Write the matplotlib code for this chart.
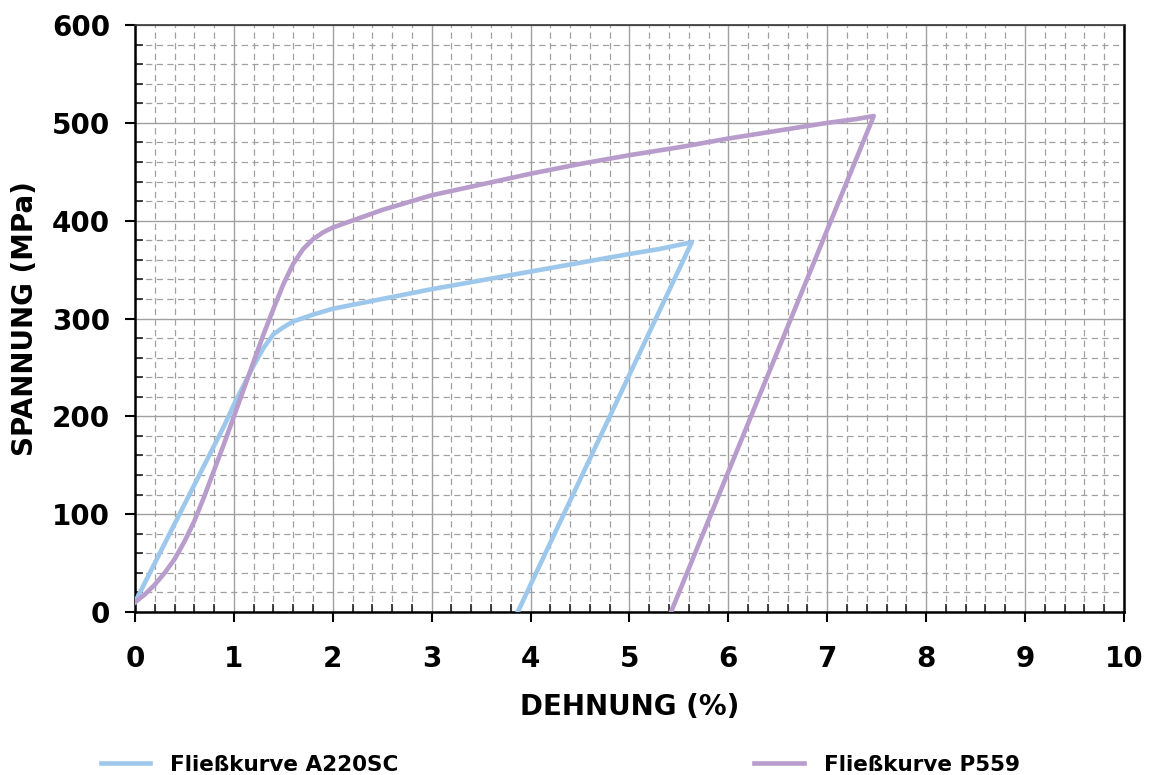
import matplotlib
matplotlib.use('Agg')
import matplotlib.pyplot as plt
from matplotlib.ticker import MultipleLocator
import numpy as np

# Fliesskurve A220SC: loading path then unloading
a220_strain = [0.0, 0.1, 0.2, 0.3, 0.4, 0.5, 0.6, 0.7, 0.8, 0.9, 1.0, 1.1, 1.2, 1.3, 1.4,
               1.5, 1.6, 1.8, 2.0, 2.5, 3.0, 3.5, 4.0, 4.5, 5.0, 5.3, 5.63, 3.87]
a220_stress = [10, 30, 50, 70, 90, 110, 130, 150, 170, 190, 212, 232, 252, 270, 284,
               291, 297, 304, 310, 320, 330, 339, 348, 357, 366, 371, 378, 0]

# Fliesskurve P559
p559_strain = [0.0, 0.1, 0.2, 0.3, 0.4, 0.5, 0.6, 0.7, 0.8, 0.9, 1.0, 1.1, 1.2, 1.3, 1.4,
               1.5, 1.6, 1.7, 1.8, 1.9, 2.0, 2.5, 3.0, 3.5, 4.0, 4.5, 5.0, 5.5, 6.0,
               6.5, 7.0, 7.3, 7.47, 5.42]
p559_stress = [10, 18, 28, 40, 54, 72, 93, 118, 145, 172, 200, 228, 256, 284, 310,
               335, 356, 371, 381, 388, 393, 411, 426, 437, 448, 458, 467, 475, 484,
               492, 500, 504, 507, 0]

x_ticks = np.arange(0, 11, 1)
y_ticks = np.arange(0, 700, 100)

fig = plt.figure(figsize=(11.49, 7.75), dpi=100)
ax = fig.add_axes([0.1175, 0.2103, 0.8607, 0.7574])

ax.plot(a220_strain, a220_stress, color='#9DC8EC', lw=3.3, label='Fließkurve A220SC', zorder=3)
ax.plot(p559_strain, p559_stress, color='#B89CCB', lw=3.3, label='Fließkurve P559', zorder=3)

ax.set_xlim(0, 10)
ax.set_ylim(0, 600)
ax.set_xticks(x_ticks)
ax.set_yticks(y_ticks)
ax.xaxis.set_minor_locator(MultipleLocator(0.2))
ax.yaxis.set_minor_locator(MultipleLocator(20))

ax.grid(which='major', color='#A0A0A0', lw=1.0, ls='-')
ax.grid(which='minor', color='#A0A0A0', lw=0.9, ls=(0, (5, 3.5)))
ax.set_axisbelow(True)

ax.tick_params(which='major', direction='out', length=7, width=1.5, color='black',
               labelsize=20)
ax.tick_params(axis='x', which='major', pad=17)
ax.tick_params(axis='y', which='major', pad=11)
ax.tick_params(which='minor', direction='in', length=6, width=1.2, color='#222222')
for lab in ax.get_xticklabels() + ax.get_yticklabels():
    lab.set_fontweight('bold')

for side in ['left', 'bottom', 'right']:
    ax.spines[side].set_linewidth(1.8)
    ax.spines[side].set_color('black')
ax.spines['top'].set_linewidth(1.2)
ax.spines['top'].set_color('#333333')

ax.set_xlabel('DEHNUNG (%)', fontsize=20, fontweight='bold', labelpad=14)
ax.set_ylabel('SPANNUNG (MPa)', fontsize=20, fontweight='bold', labelpad=9)

fig.legend(loc='center left', bbox_to_anchor=(0.071, 0.013), ncol=2, frameon=False,
           prop={'size': 15.5, 'weight': 'bold'}, handlelength=2.3, handletextpad=0.93,
           columnspacing=16.5)

fig.savefig('out.png', dpi=100)
